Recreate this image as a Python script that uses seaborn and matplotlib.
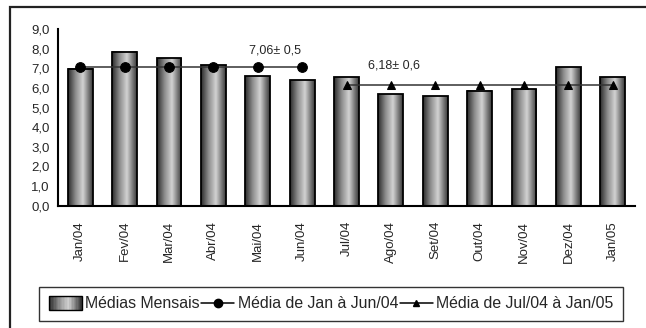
import pandas as pd
import matplotlib.pyplot as plt
import seaborn as sns
import numpy as np
from matplotlib.colors import LinearSegmentedColormap
from matplotlib.lines import Line2D
from matplotlib.patches import Rectangle
from matplotlib.legend_handler import HandlerBase

# Dados
meses = ['Jan/04', 'Fev/04', 'Mar/04', 'Abr/04', 'Mai/04', 'Jun/04', 'Jul/04',
         'Ago/04', 'Set/04', 'Out/04', 'Nov/04', 'Dez/04', 'Jan/05']
medias_mensais = [7.00, 7.86, 7.52, 7.18, 6.63, 6.40, 6.57, 5.68, 5.60, 5.87, 5.95, 7.08, 6.57]
meses_sem1 = ['Jan/04', 'Fev/04', 'Mar/04', 'Abr/04', 'Mai/04', 'Jun/04']
media_sem1 = [7.06, 7.06, 7.06, 7.06, 7.06, 7.06]
meses_sem2 = ['Jul/04', 'Ago/04', 'Set/04', 'Out/04', 'Nov/04', 'Dez/04', 'Jan/05']
media_sem2 = [6.18, 6.18, 6.18, 6.18, 6.18, 6.18, 6.18]
yticks = [0, 1, 2, 3, 4, 5, 6, 7, 8, 9]
ytick_labels = ['0,0', '1,0', '2,0', '3,0', '4,0', '5,0', '6,0', '7,0', '8,0', '9,0']
texto_sem1 = '7,06\u00b1 0,5'
texto_sem2 = '6,18\u00b1 0,6'

sns.set_style('white')
plt.rcParams['font.family'] = ['Liberation Sans', 'DejaVu Sans']

df = pd.DataFrame({'mes': meses, 'media': medias_mensais})
df1 = pd.DataFrame({'pos': [meses.index(m) for m in meses_sem1], 'media': media_sem1})
df2 = pd.DataFrame({'pos': [meses.index(m) for m in meses_sem2], 'media': media_sem2})

gradiente = LinearSegmentedColormap.from_list(
    'barra', [(0, '#2c2c2c'), (0.3, '#8c8c8c'), (0.6, '#d2d2d2'), (1, '#3a3a3a')])

fig = plt.figure(figsize=(6.46, 3.28), dpi=100)
ax = fig.add_axes([58 / 646, 1 - 205.7 / 328, (635 - 58) / 646, (205.7 - 29.3) / 328])

sns.barplot(data=df, x='mes', y='media', ax=ax, width=0.56, color='#999999', zorder=2)

# Preenchimento em degradê para as barras
grad = np.linspace(0, 1, 64).reshape(1, -1)
for p in ax.patches:
    x0, y0, w, h = p.get_x(), p.get_y(), p.get_width(), p.get_height()
    ax.imshow(grad, extent=[x0, x0 + w, y0, y0 + h], aspect='auto', cmap=gradiente,
              interpolation='bilinear', zorder=2)
    p.set_facecolor('none')
    p.set_edgecolor('black')
    p.set_linewidth(1.3)
    p.set_zorder(3)

sns.lineplot(data=df1, x='pos', y='media', ax=ax, color='#333333', linewidth=1.1,
             marker='o', markersize=7, markerfacecolor='black', markeredgecolor='black', zorder=4)
sns.lineplot(data=df2, x='pos', y='media', ax=ax, color='#333333', linewidth=1.1,
             marker='^', markersize=6, markerfacecolor='black', markeredgecolor='black', zorder=4)

ax.text(4.38, 7.94, texto_sem1, ha='center', va='center', fontsize=9)
ax.text(7.07, 7.17, texto_sem2, ha='center', va='center', fontsize=9)

ax.set_xlim(-0.5, 12.5)
ax.set_ylim(0, 9)
ax.set_yticks(yticks)
ax.set_yticklabels(ytick_labels, fontsize=9.5)
ax.set_xticks(range(len(meses)))
ax.set_xticklabels(meses, rotation=90, fontsize=9.5)
ax.set_xticks(np.arange(-0.5, 13, 1), minor=True)
ax.tick_params(axis='x', which='major', length=0, pad=11)
ax.tick_params(axis='x', which='minor', length=4, width=1.3, direction='out', color='black')
ax.tick_params(axis='y', length=3, width=1.3, direction='out', color='black', pad=3)
ax.set_xlabel('')
ax.set_ylabel('')
for lado in ['top', 'right']:
    ax.spines[lado].set_visible(False)
for lado in ['left', 'bottom']:
    ax.spines[lado].set_color('black')
    ax.spines[lado].set_linewidth(1.5)


# Legenda com retângulo em degradê
class HandlerGradiente(HandlerBase):
    def create_artists(self, legend, orig_handle, xdescent, ydescent, width, height, fontsize, trans):
        artistas = []
        n = 24
        cores = gradiente(np.linspace(0, 1, n))
        for i in range(n):
            r = Rectangle((-xdescent + i * width / n, -ydescent - 1), width / n, height + 2,
                          facecolor=cores[i], edgecolor='none', transform=trans)
            artistas.append(r)
        artistas.append(Rectangle((-xdescent, -ydescent - 1), width, height + 2, facecolor='none',
                                  edgecolor='black', linewidth=1, transform=trans))
        return artistas


h_barra = Rectangle((0, 0), 1, 1)
h_sem1 = Line2D([], [], color='black', linewidth=1.1, marker='o', markersize=6)
h_sem2 = Line2D([], [], color='black', linewidth=1.1, marker='^', markersize=5)
leg = fig.legend([h_barra, h_sem1, h_sem2],
                 ['Médias Mensais', 'Média de Jan à Jun/04', 'Média de Jul/04 à Jan/05'],
                 handler_map={Rectangle: HandlerGradiente()}, ncol=3, loc='center',
                 bbox_to_anchor=(331 / 646, 1 - 304 / 328), fontsize=11.4, frameon=True,
                 fancybox=False, shadow=False, handlelength=2.1, handletextpad=0.2,
                 columnspacing=0.1, borderpad=0.6)
leg.get_frame().set_edgecolor('black')
leg.get_frame().set_linewidth(1)

# Moldura externa
fig.patches.append(Rectangle((10 / 646, -0.2), 1.2, 1.2 - 7 / 328, transform=fig.transFigure,
                             fill=False, edgecolor='#222222', linewidth=1.6))

fig.savefig('out.png', dpi=100)
